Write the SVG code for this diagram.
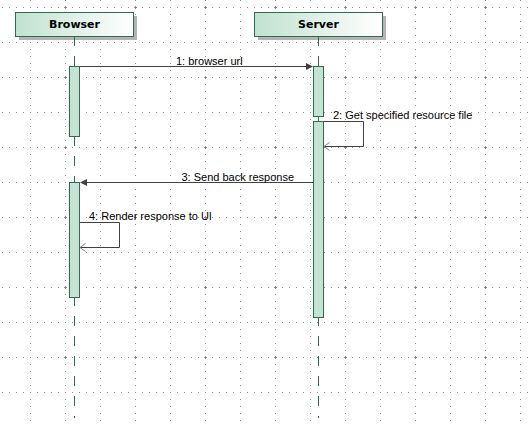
<svg xmlns="http://www.w3.org/2000/svg" width="532" height="426" viewBox="0 0 532 426">
<style>
.lifeline{stroke:#2f6a55;stroke-width:1;stroke-dasharray:10 10;fill:none}
.head{fill:url(#hg);stroke:#2f6a55;stroke-width:1}
.shadow{fill:#b4b4b4}
.act{fill:#c4e3d3;stroke:#2f6a55;stroke-width:1}
.msg{stroke:#404040;stroke-width:1;fill:none}
.open{stroke:#808080;stroke-width:1;fill:none}
.tip{fill:#404040}
.ttl{font-family:"DejaVu Sans",sans-serif;font-weight:bold;font-size:11px;fill:#000;text-anchor:middle}
.lbl{font-family:"Liberation Sans",Arial,sans-serif;font-size:11px;fill:#000}
</style>
<defs>
<linearGradient id="hg" x1="0" y1="0" x2="1" y2="0">
<stop offset="0" stop-color="#c0e2cf"/>
<stop offset="1" stop-color="#ffffff"/>
</linearGradient>
<pattern id="grid" patternUnits="userSpaceOnUse" x="30" y="7" width="35" height="35">
<rect x="0" y="0" width="1" height="1" fill="#8a8a8a"/>
<rect x="7" y="0" width="1" height="1" fill="#8a8a8a"/>
<rect x="14" y="0" width="1" height="1" fill="#8a8a8a"/>
<rect x="21" y="0" width="1" height="1" fill="#8a8a8a"/>
<rect x="28" y="0" width="1" height="1" fill="#8a8a8a"/>
<rect x="0" y="7" width="1" height="1" fill="#8a8a8a"/>
<rect x="0" y="14" width="1" height="1" fill="#8a8a8a"/>
<rect x="0" y="21" width="1" height="1" fill="#8a8a8a"/>
<rect x="0" y="28" width="1" height="1" fill="#8a8a8a"/>
</pattern>
<pattern id="cross" patternUnits="userSpaceOnUse" x="64" y="6" width="70" height="70">
<rect x="0" y="1" width="3" height="1" fill="#8a8a8a"/>
<rect x="1" y="0" width="1" height="3" fill="#8a8a8a"/>
</pattern>
</defs>
<rect width="532" height="426" fill="#ffffff"/>
<rect width="532" height="426" fill="url(#grid)"/>
<rect width="532" height="426" fill="url(#cross)"/>

<g id="browser">
<rect class="shadow" x="19" y="16" width="118" height="24"/>
<rect class="head" x="15.5" y="12.5" width="118" height="24"/>
<text class="ttl" x="74.5" y="28">Browser</text>
<line class="lifeline" x1="74.5" y1="36" x2="74.5" y2="418"/>
<rect class="act" x="69.5" y="66.5" width="10" height="70"/>
<rect class="act" x="69.5" y="182.5" width="10" height="115"/>
</g>

<g id="server">
<rect class="shadow" x="258" y="16" width="128" height="24"/>
<rect class="head" x="254.5" y="12.5" width="128" height="24"/>
<text class="ttl" x="318.5" y="28">Server</text>
<line class="lifeline" x1="318.5" y1="36" x2="318.5" y2="418"/>
<rect class="act" x="313.5" y="66.5" width="10" height="50"/>
<rect class="act" x="313.5" y="121.5" width="10" height="196"/>
</g>

<g id="connectors">
<g id="m1">
<line class="msg" x1="80" y1="66.5" x2="307" y2="66.5"/>
<polygon class="tip" points="313,66.5 306,63 306,70"/>
<text class="lbl" x="176" y="65">1: browser url</text>
</g>
<g id="m2">
<polyline class="msg" points="324,121.5 363.5,121.5 363.5,146.5 324,146.5"/>
<polyline class="open" points="329.5,142.5 324,146.5 329.5,150.5"/>
<text class="lbl" x="333" y="119">2: Get specified resource file</text>
</g>
<g id="m3">
<line class="msg" x1="313" y1="182.5" x2="86" y2="182.5"/>
<polygon class="tip" points="80,182.5 87,179 87,186"/>
<text class="lbl" x="181.5" y="181">3: Send back response</text>
</g>
<g id="m4">
<polyline class="msg" points="80,222.5 119.5,222.5 119.5,247.5 80,247.5"/>
<polyline class="open" points="85.5,243.5 80,247.5 85.5,251.5"/>
<text class="lbl" x="89" y="220">4: Render response to UI</text>
</g>
</g>
</svg>
